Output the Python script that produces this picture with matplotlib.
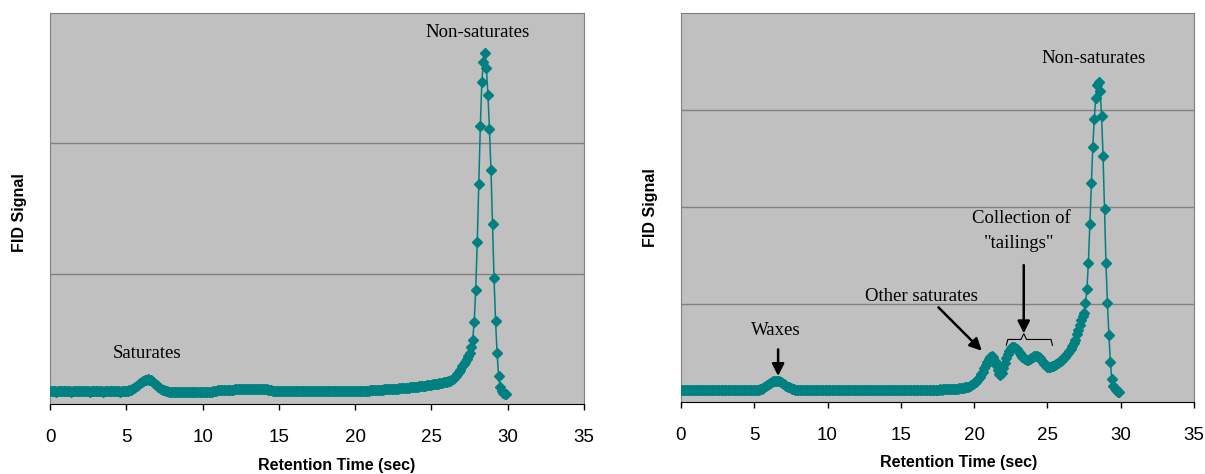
import matplotlib.pyplot as plt
import numpy as np

# FID signal sampled every 0.1 s, 0.0 .. 29.9 s (one row = one second)
time_s = np.arange(300) / 10.0

signal_a = [
    0.097, 0.096, 0.098, 0.097, 0.095, 0.097, 0.098, 0.096, 0.097, 0.097,
    0.096, 0.098, 0.097, 0.097, 0.095, 0.096, 0.098, 0.097, 0.096, 0.097,
    0.097, 0.096, 0.098, 0.097, 0.096, 0.097, 0.095, 0.097, 0.098, 0.096,
    0.097, 0.097, 0.096, 0.098, 0.097, 0.095, 0.097, 0.096, 0.098, 0.097,
    0.096, 0.097, 0.098, 0.097, 0.096, 0.097, 0.095, 0.098, 0.097, 0.096,
    0.098, 0.101, 0.104, 0.108, 0.114, 0.121, 0.130, 0.140, 0.150, 0.160,
    0.169, 0.177, 0.183, 0.187, 0.188, 0.186, 0.181, 0.173, 0.164, 0.154,
    0.144, 0.134, 0.125, 0.117, 0.110, 0.104, 0.099, 0.096, 0.093, 0.092,
    0.091, 0.092, 0.090, 0.091, 0.092, 0.091, 0.090, 0.092, 0.091, 0.090,
    0.091, 0.092, 0.091, 0.090, 0.092, 0.091, 0.091, 0.090, 0.092, 0.091,
    0.091, 0.092, 0.090, 0.091, 0.092, 0.091, 0.093, 0.097, 0.101, 0.103,
    0.104, 0.105, 0.104, 0.106, 0.105, 0.106, 0.107, 0.106, 0.108, 0.109,
    0.110, 0.112, 0.113, 0.114, 0.113, 0.115, 0.114, 0.116, 0.115, 0.114,
    0.115, 0.116, 0.114, 0.115, 0.116, 0.115, 0.114, 0.116, 0.115, 0.114,
    0.113, 0.114, 0.112, 0.111, 0.109, 0.106, 0.103, 0.101, 0.100, 0.099,
    0.099, 0.100, 0.098, 0.099, 0.100, 0.099, 0.098, 0.100, 0.099, 0.098,
    0.099, 0.100, 0.099, 0.098, 0.099, 0.100, 0.099, 0.098, 0.100, 0.099,
    0.098, 0.099, 0.100, 0.099, 0.098, 0.099, 0.100, 0.099, 0.098, 0.099,
    0.100, 0.099, 0.098, 0.099, 0.100, 0.099, 0.098, 0.100, 0.099, 0.098,
    0.099, 0.100, 0.099, 0.098, 0.099, 0.100, 0.099, 0.098, 0.100, 0.099,
    0.099, 0.100, 0.099, 0.100, 0.101, 0.100, 0.101, 0.100, 0.101, 0.102,
    0.104, 0.106, 0.107, 0.108, 0.109, 0.108, 0.110, 0.111, 0.110, 0.112,
    0.113, 0.112, 0.114, 0.115, 0.114, 0.116, 0.117, 0.118, 0.117, 0.119,
    0.120, 0.121, 0.122, 0.124, 0.125, 0.126, 0.127, 0.129, 0.130, 0.131,
    0.132, 0.134, 0.135, 0.136, 0.138, 0.139, 0.141, 0.142, 0.144, 0.146,
    0.148, 0.150, 0.152, 0.154, 0.156, 0.158, 0.161, 0.163, 0.166, 0.169,
    0.172, 0.176, 0.180, 0.186, 0.193, 0.202, 0.214, 0.228, 0.245, 0.264,
    0.290, 0.305, 0.325, 0.345, 0.368, 0.395, 0.440, 0.494, 0.627, 0.877,
    1.240, 1.688, 2.130, 2.468, 2.624, 2.693, 2.578, 2.368, 2.110, 1.793,
    1.381, 0.964, 0.634, 0.391, 0.212, 0.130, 0.097, 0.085, 0.079, 0.075,
]

signal_b = [
    0.120, 0.119, 0.121, 0.120, 0.118, 0.120, 0.121, 0.119, 0.120, 0.122,
    0.120, 0.119, 0.121, 0.123, 0.120, 0.119, 0.120, 0.121, 0.119, 0.120,
    0.121, 0.119, 0.120, 0.118, 0.120, 0.121, 0.122, 0.120, 0.119, 0.120,
    0.119, 0.121, 0.120, 0.119, 0.120, 0.121, 0.119, 0.120, 0.118, 0.120,
    0.121, 0.120, 0.119, 0.120, 0.122, 0.121, 0.120, 0.122, 0.121, 0.120,
    0.121, 0.122, 0.121, 0.123, 0.127, 0.133, 0.141, 0.152, 0.164, 0.176,
    0.187, 0.196, 0.204, 0.210, 0.214, 0.216, 0.214, 0.210, 0.203, 0.195,
    0.185, 0.175, 0.165, 0.155, 0.147, 0.140, 0.134, 0.129, 0.125, 0.122,
    0.120, 0.118, 0.119, 0.117, 0.119, 0.120, 0.118, 0.117, 0.119, 0.120,
    0.118, 0.119, 0.121, 0.118, 0.117, 0.119, 0.120, 0.118, 0.119, 0.117,
    0.119, 0.120, 0.118, 0.117, 0.119, 0.121, 0.118, 0.119, 0.120, 0.118,
    0.119, 0.117, 0.120, 0.119, 0.118, 0.120, 0.121, 0.119, 0.118, 0.120,
    0.121, 0.119, 0.120, 0.118, 0.119, 0.121, 0.120, 0.119, 0.118, 0.120,
    0.119, 0.120, 0.121, 0.119, 0.118, 0.120, 0.119, 0.121, 0.120, 0.118,
    0.119, 0.120, 0.118, 0.119, 0.121, 0.120, 0.118, 0.119, 0.120, 0.119,
    0.120, 0.121, 0.119, 0.118, 0.120, 0.121, 0.119, 0.120, 0.122, 0.120,
    0.121, 0.119, 0.120, 0.122, 0.121, 0.120, 0.122, 0.121, 0.123, 0.122,
    0.121, 0.123, 0.124, 0.122, 0.123, 0.125, 0.124, 0.126, 0.125, 0.127,
    0.128, 0.127, 0.129, 0.130, 0.131, 0.130, 0.132, 0.133, 0.134, 0.135,
    0.137, 0.139, 0.141, 0.144, 0.147, 0.151, 0.156, 0.162, 0.170, 0.180,
    0.192, 0.205, 0.220, 0.238, 0.258, 0.282, 0.310, 0.342, 0.375, 0.405,
    0.435, 0.458, 0.468, 0.455, 0.420, 0.375, 0.325, 0.285, 0.276, 0.300,
    0.345, 0.395, 0.445, 0.490, 0.525, 0.550, 0.564, 0.566, 0.556, 0.540,
    0.520, 0.500, 0.480, 0.462, 0.448, 0.437, 0.431, 0.432, 0.440, 0.450,
    0.460, 0.467, 0.471, 0.470, 0.463, 0.450, 0.432, 0.412, 0.392, 0.375,
    0.362, 0.358, 0.360, 0.365, 0.372, 0.380, 0.388, 0.397, 0.407, 0.418,
    0.430, 0.445, 0.460, 0.478, 0.498, 0.520, 0.545, 0.572, 0.602, 0.636,
    0.700, 0.740, 0.790, 0.840, 0.880, 0.908, 1.011, 1.155, 1.430, 1.830,
    2.250, 2.620, 2.910, 3.120, 3.260, 3.290, 3.200, 2.940, 2.530, 1.980,
    1.430, 1.010, 0.690, 0.410, 0.230, 0.165, 0.140, 0.120, 0.105, 0.100,
]

xticks = list(range(0, 36, 5))

teal = "#008080"
serif = "Liberation Serif"
plt.rcParams["font.family"] = ["Liberation Sans", "DejaVu Sans"]

fig = plt.figure(figsize=(12.05, 4.74), dpi=100)
ax1 = fig.add_axes([0.0415, 0.1477, 0.4432, 0.8249])
ax2 = fig.add_axes([0.5651, 0.1525, 0.4257, 0.8207])

for ax, sig, ymax in [(ax1, signal_a, 3), (ax2, signal_b, 4)]:
    ax.set_facecolor("#c0c0c0")
    ax.plot(time_s, sig, color=teal, lw=1.1, marker="D", ms=5.5,
            mec=teal, mfc=teal, zorder=3)
    ax.set_xlim(0, 35)
    ax.set_ylim(0, ymax)
    ax.set_xticks(xticks)
    ax.set_yticks(range(1, ymax))
    ax.yaxis.grid(True, color="#808080", lw=1.0)
    ax.set_axisbelow(True)
    ax.tick_params(axis="y", length=0, labelleft=False)
    ax.tick_params(axis="x", direction="out", length=4, width=1,
                   labelsize=13.5, pad=14)
    for side in ["top", "right", "left"]:
        ax.spines[side].set_color("#808080")
    ax.spines["bottom"].set_color("black")
    ax.set_xlabel("Retention Time (sec)", fontsize=11.5, fontweight="bold")
    ax.set_ylabel("FID Signal", fontsize=11.5, fontweight="bold")

ax1.xaxis.set_label_coords(0.5365, -0.138)
ax1.yaxis.set_label_coords(-0.043, 0.49)
ax2.xaxis.set_label_coords(0.5416, -0.137)
ax2.yaxis.set_label_coords(-0.045, 0.50)

# left panel labels
ax1.text(28.05, 2.854, "Non-saturates", family=serif, fontsize=13.5,
         ha="center", va="center")
ax1.text(6.37, 0.386, "Saturates", family=serif, fontsize=13.5,
         ha="center", va="center")

# right panel labels
ax2.text(28.18, 3.53, "Non-saturates", family=serif, fontsize=13.5,
         ha="center", va="center")
ax2.text(6.48, 0.737, "Waxes", family=serif, fontsize=13.5,
         ha="center", va="center")
ax2.text(16.39, 1.087, "Other saturates", family=serif, fontsize=13.5,
         ha="center", va="center")
ax2.text(23.2, 1.885, "Collection of", family=serif, fontsize=13.5,
         ha="center", va="center")
ax2.text(23.07, 1.628, '"tailings"', family=serif, fontsize=13.5,
         ha="center", va="center")

arrow = dict(arrowstyle="-|>", color="black", lw=1.8, mutation_scale=18,
             shrinkA=0, shrinkB=0)
ax2.annotate("", xy=(6.63, 0.264), xytext=(6.63, 0.538), arrowprops=arrow)
ax2.annotate("", xy=(20.53, 0.524), xytext=(17.57, 0.97), arrowprops=arrow)
ax2.annotate("", xy=(23.39, 0.703), xytext=(23.39, 1.405), arrowprops=arrow)

# curly brace over the tailings
bx = [22.2, 22.3, 23.2, 23.39, 23.58, 25.25, 25.35]
by = [0.58, 0.64, 0.64, 0.70, 0.64, 0.64, 0.58]
ax2.plot(bx, by, color="black", lw=0.8, zorder=4)

fig.savefig("out.png", dpi=100)
